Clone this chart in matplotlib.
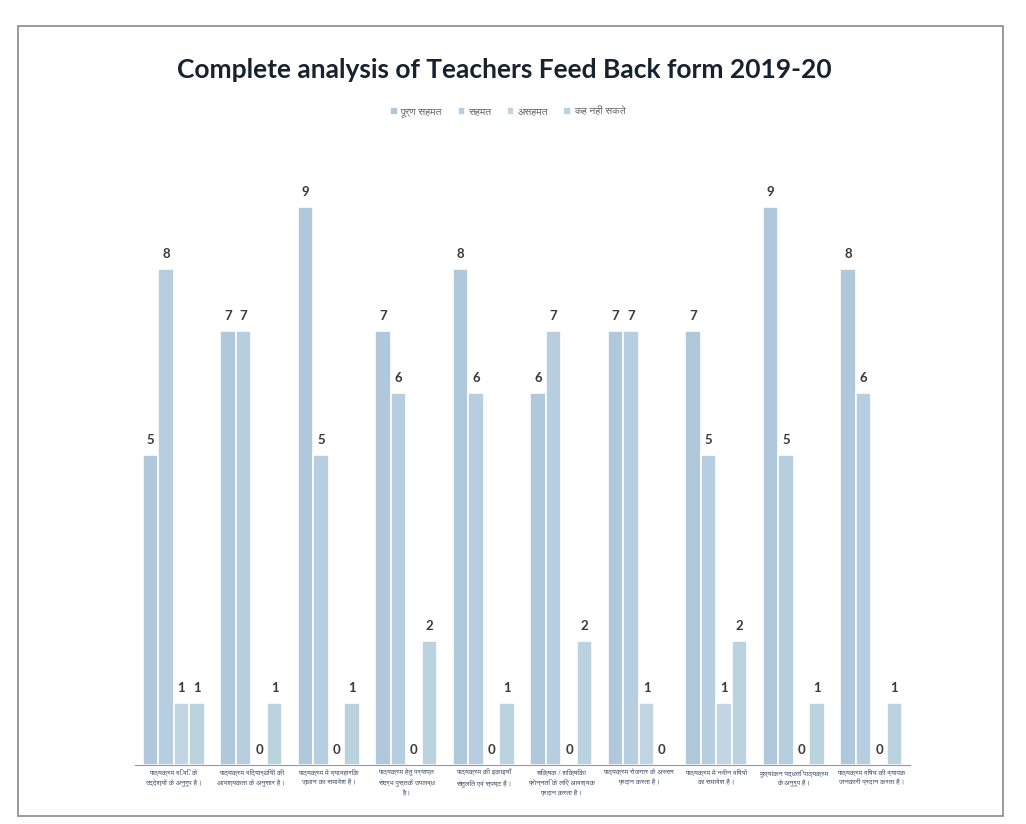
import matplotlib
matplotlib.use("Agg")
import matplotlib.pyplot as plt
import numpy as np
import textwrap

# ---- data ----
categories = [
    "पाठ्यक्रम वि.वि. के उद्देश्यों के अनुरूप है।",
    "पाठ्यक्रम विद्यार्थियों की आवश्यकता के अनुसार है।",
    "पाठ्यक्रम में व्यावहारिक ज्ञान का समावेश है।",
    "पाठ्यक्रम हेतु पर्याप्त संदर्भ पुस्तकें उपलब्ध हैं।",
    "पाठ्यक्रम की इकाइयाँ संतुलित एवं स्पष्ट हैं।",
    "शिक्षक / शिक्षिका प्रोन्नति के लिए आवश्यक प्रदान करता है।",
    "पाठ्यक्रम रोजगार के अवसर प्रदान करता है।",
    "पाठ्यक्रम में नवीन विषयों का समावेश है।",
    "मूल्यांकन पद्धति पाठ्यक्रम के अनुरूप है।",
    "पाठ्यक्रम विषय की व्यापक जानकारी प्रदान करता है।",
]
series_names = ["पूर्ण सहमत", "सहमत", "असहमत", "कह नहीं सकते"]
fully_agree = [5, 7, 9, 7, 8, 6, 7, 7, 9, 8]
agree       = [8, 7, 5, 6, 6, 7, 7, 5, 5, 6]
disagree    = [1, 0, 0, 0, 0, 0, 1, 1, 0, 0]
cant_say    = [1, 1, 1, 2, 1, 2, 0, 2, 1, 1]
title = "Complete analysis of Teachers Feed Back form 2019-20"

deva_family = ["FreeSans", "DejaVu Sans"]
colors = ["#b0c8db", "#b7cde0", "#c2d5e2", "#bad3de"]
series = [fully_agree, agree, disagree, cant_say]

fig = plt.figure(figsize=(10.26, 8.24), dpi=100)
fig.patch.set_facecolor("white")

ax = fig.add_axes([135 / 1026, 1 - 765 / 824, 775 / 1026, 620 / 824])
x = np.arange(len(categories))
w = 0.2
for i, (vals, col, name) in enumerate(zip(series, colors, series_names)):
    pos = x - 0.3 + i * w
    bars = ax.bar(pos, vals, width=w, color=col, edgecolor="white", linewidth=1.2, label=name)
    for b, v in zip(bars, vals):
        ax.text(b.get_x() + b.get_width() / 2, v + 0.15, str(v), ha="center", va="bottom",
                fontsize=9.5, color="#3a3a3a", family="Lato", fontweight="bold")

ax.set_xlim(-0.5, len(categories) - 0.5)
ax.set_ylim(0, 10)
ax.set_yticks([])
ax.set_xticks(x)
wrapped = [textwrap.fill(c, 26, break_long_words=False) for c in categories]
ax.set_xticklabels(wrapped, fontsize=5.2, color="#3e4f68", family=deva_family, linespacing=1.6)
ax.tick_params(axis="x", length=0, pad=3)
for s in ["top", "right", "left"]:
    ax.spines[s].set_visible(False)
ax.spines["bottom"].set_color("#999999")
ax.patch.set_alpha(0)

fig.text(0.492, 1 - 70 / 824, title, ha="center", va="center", fontsize=19,
         family="Lato", fontweight="bold", color="#18222f")

leg = fig.legend(loc="center", bbox_to_anchor=(0.495, 1 - 112 / 824), ncol=4, frameon=False,
                 prop={"family": deva_family, "size": 7.5}, handlelength=0.7, handleheight=0.7,
                 handletextpad=0.3, columnspacing=1.5)
for t in leg.get_texts():
    t.set_color("#666666")

# chart border
fig.add_artist(plt.Rectangle((18 / 1026, 8 / 824), 985 / 1026, 790 / 824, transform=fig.transFigure,
                             fill=False, edgecolor="#8a8a8a", linewidth=1.2))

fig.savefig("out.png", dpi=100)
